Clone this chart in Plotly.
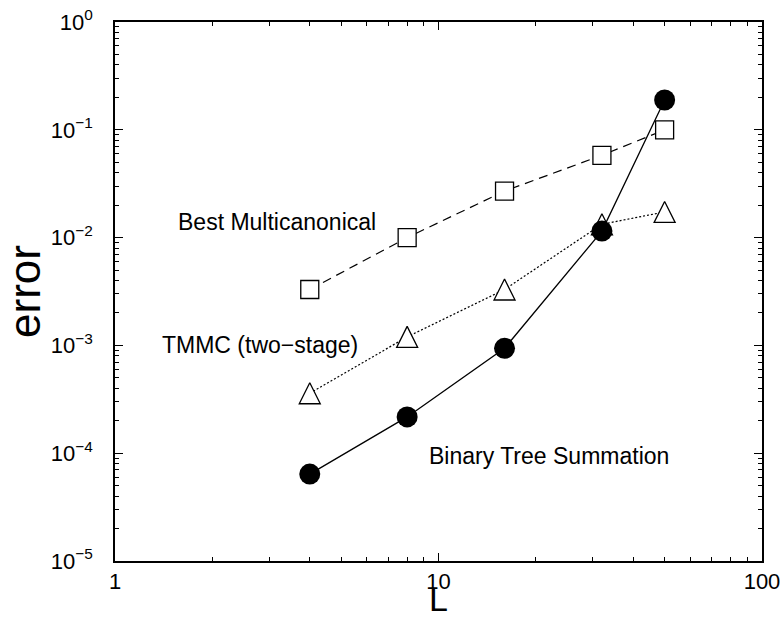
import plotly.graph_objects as go

# Data
L = [4, 8, 16, 32, 50]
binary_tree = [6.4e-5, 2.17e-4, 9.4e-4, 0.0115, 0.189]
best_multican = [3.3e-3, 1.0e-2, 0.027, 0.058, 0.10]
tmmc = [3.6e-4, 1.2e-3, 3.3e-3, 0.0133, 0.0173]

labels = ["Best Multicanonical", "TMMC (two\u2212stage)", "Binary Tree Summation"]
y_tickvals = [1e-5, 1e-4, 1e-3, 1e-2, 1e-1, 1]
y_ticktext = ["10<sup>\u22125</sup>", "10<sup>\u22124</sup>", "10<sup>\u22123</sup>",
              "10<sup>\u22122</sup>", "10<sup>\u22121</sup>", "10<sup>0</sup>"]
x_tickvals = [1, 10, 100]
x_ticktext = ["1", "10", "100"]

FONT = "Liberation Sans, Arial, Helvetica, sans-serif"

fig = go.Figure()

tri_size = 21
fig.add_trace(go.Scatter(
    x=L, y=tmmc, mode="lines+markers", name=labels[1],
    line=dict(color="black", width=1.2, dash="2px,2px"),
    marker=dict(symbol="arrow-down", angle=180, standoff=tri_size / 2,
                size=tri_size, color="white", line=dict(color="black", width=1.3)),
))
fig.add_trace(go.Scatter(
    x=L, y=best_multican, mode="lines+markers", name=labels[0],
    line=dict(color="black", width=1.2, dash="9px,6px"),
    marker=dict(symbol="square", size=18, color="white",
                line=dict(color="black", width=1.3)),
))
fig.add_trace(go.Scatter(
    x=L, y=binary_tree, mode="lines+markers", name=labels[2],
    line=dict(color="black", width=1.3),
    marker=dict(symbol="circle", size=21, color="black",
                line=dict(color="black", width=0)),
))

ann_pos = [(0.500, -1.855), (0.448, -2.996), (1.343, -4.026)]
for text, (ax_, ay_) in zip(labels, ann_pos):
    fig.add_annotation(x=ax_, y=ay_, xref="x", yref="y", text=text,
                       showarrow=False, font=dict(size=23, color="black", family=FONT),
                       xanchor="center", yanchor="middle")

axis_common = dict(
    type="log", showgrid=False, zeroline=False, automargin=False,
    showline=True, linecolor="black", linewidth=1.5, mirror="allticks",
    ticks="inside", ticklen=8, tickwidth=1.2, tickcolor="black",
    tickfont=dict(size=22, color="black", family=FONT),
    ticklabeloverflow="allow",
    minor=dict(ticks="inside", ticklen=4, tickwidth=1, tickcolor="black", dtick="D1"),
)

fig.update_xaxes(range=[0, 2], tickmode="array", tickvals=x_tickvals, ticktext=x_ticktext,
                 title=dict(text="L", font=dict(size=34, color="black", family=FONT), standoff=5),
                 ticklabelstandoff=0,
                 **axis_common)
fig.update_yaxes(range=[-5, 0], tickmode="array", tickvals=y_tickvals, ticktext=y_ticktext,
                 title=dict(text="error", font=dict(size=44, color="black", family=FONT), standoff=26),
                 ticklabelstandoff=16,
                 **axis_common)

fig.update_layout(
    width=783, height=618,
    margin=dict(l=115, r=21, t=22, b=57),
    paper_bgcolor="white", plot_bgcolor="white",
    showlegend=False,
    font=dict(family=FONT, color="black"),
)

# Remove the browser's default 8px body margin so the figure sits at the page origin.
fig.write_html("out.html",
               config={"displayModeBar": False},
               post_script="document.body.style.margin='0px';document.body.style.overflow='hidden';")
